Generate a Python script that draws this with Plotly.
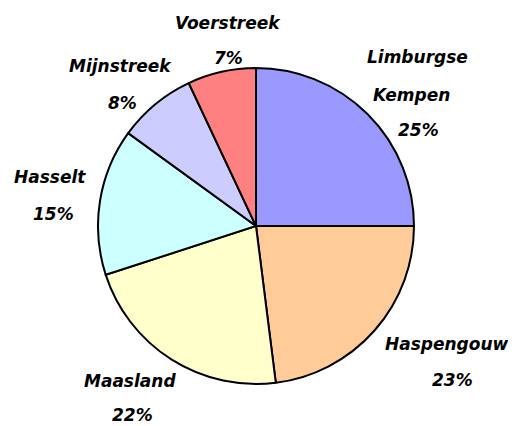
import plotly.graph_objects as go

regions = ["Limburgse Kempen", "Haspengouw", "Maasland", "Hasselt", "Mijnstreek", "Voerstreek"]
shares = [25, 23, 22, 15, 8, 7]
colors = ["#9999FF", "#FFCC99", "#FFFFCC", "#CCFFFF", "#CCCCFF", "#FF8080"]

# label layout (page pixels of each label line's centre) -- style only
label_lines = {
    "Limburgse Kempen": [("Limburgse", 417, 57), ("Kempen", 411, 95), ("%", 418, 130)],
    "Haspengouw": [("Haspengouw", 447, 344), ("%", 452, 380)],
    "Maasland": [("Maasland", 130, 381), ("%", 132, 415)],
    "Hasselt": [("Hasselt", 50, 177), ("%", 53, 214)],
    "Mijnstreek": [("Mijnstreek", 120, 66), ("%", 122, 103)],
    "Voerstreek": [("Voerstreek", 228, 23), ("%", 228, 58)],
}

W, H = 516, 426
OFF = 8  # browser body margin
cx, cy, r = 256 - OFF, 226 - OFF, 158

fig = go.Figure(go.Pie(
    labels=regions,
    values=shares,
    sort=False,
    direction="clockwise",
    rotation=0,
    marker=dict(colors=colors, line=dict(color="black", width=2)),
    textinfo="none",
    domain=dict(x=[(cx - r) / W, (cx + r) / W], y=[(H - cy - r) / H, (H - cy + r) / H]),
    showlegend=False,
    hoverinfo="skip",
))

total = sum(shares)
font = dict(family="DejaVu Sans", size=17, color="black", weight="bold", style="italic")
for name, v in zip(regions, shares):
    pct = f"{round(100 * v / total)}%"
    for txt, px, py in label_lines[name]:
        fig.add_annotation(
            text=pct if txt == "%" else txt,
            x=(px - OFF) / W, y=1 - (py - OFF) / H,
            xref="paper", yref="paper",
            xanchor="center", yanchor="middle",
            showarrow=False, font=font,
        )

fig.update_layout(
    width=W, height=H,
    margin=dict(l=0, r=0, t=0, b=0),
    paper_bgcolor="white",
    plot_bgcolor="white",
)
fig.write_html("out.html")
